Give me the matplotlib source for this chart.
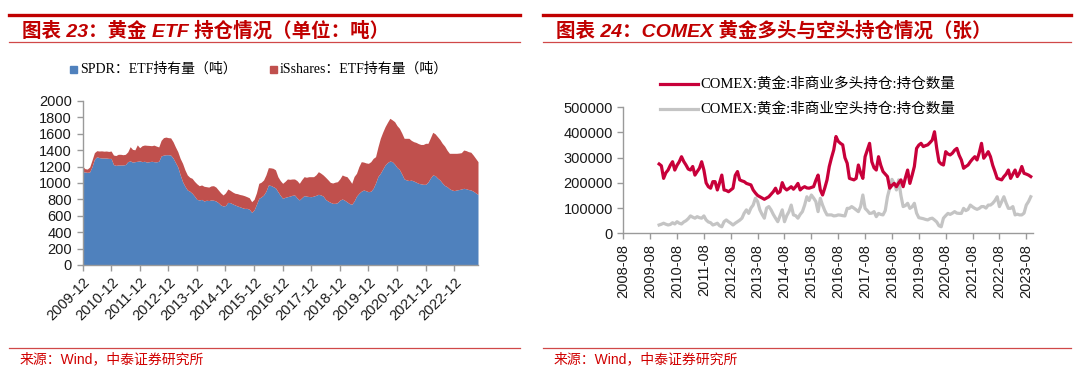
import numpy as np
import matplotlib.pyplot as plt
from matplotlib.lines import Line2D
from matplotlib.patches import Rectangle

# ---------------- datos ----------------
# Grafico izquierdo: mensual, 2009-12 .. 2023-10 (toneladas)
spdr = [1135,
        1135, 1130, 1135, 1200, 1290, 1320, 1310, 1305, 1305, 1305, 1300, 1300,
        1225, 1215, 1220, 1220, 1220, 1225, 1260, 1270, 1255, 1260, 1265, 1270,
        1260, 1265, 1255, 1260, 1265, 1260, 1258, 1265, 1330, 1340, 1345, 1345,
        1340, 1305, 1250, 1195, 1100, 1016, 960, 915, 900, 875, 840, 800,
        793, 800, 780, 790, 786, 793, 790, 780, 760, 732, 720, 725,
        764, 760, 745, 732, 720, 710, 699, 690, 691, 680, 642, 670,
        740, 813, 830, 854, 900, 976, 970, 955, 940, 894, 850, 813,
        825, 833, 840, 850, 854, 820, 793, 820, 846, 840, 835, 833,
        840, 850, 862, 855, 840, 800, 780, 765, 752, 752, 760, 790,
        805, 790, 770, 750, 740, 780, 840, 874, 900, 915, 905, 894,
        900, 935, 1000, 1080, 1118, 1170, 1220, 1250, 1268, 1260, 1230, 1190,
        1165, 1110, 1050, 1037, 1030, 1035, 1024, 1010, 996, 990, 984, 984,
        1010, 1060, 1098, 1090, 1060, 1037, 1000, 970, 955, 930, 915, 907,
        915, 920, 927, 935, 930, 920, 915, 900, 880, 860]
# total SPDR + iShares (borde superior del area roja)
total_etf = [1207,
             1175, 1170, 1195, 1280, 1370, 1394, 1390, 1392, 1388, 1390, 1385, 1390,
             1341, 1335, 1350, 1350, 1345, 1350, 1380, 1443, 1410, 1405, 1465, 1430,
             1455, 1463, 1460, 1458, 1455, 1462, 1450, 1440, 1520, 1553, 1560, 1553,
             1550, 1504, 1440, 1382, 1300, 1240, 1160, 1098, 1070, 1057, 1020, 990,
             967, 976, 960, 955, 950, 965, 967, 950, 915, 880, 854, 880,
             927, 910, 890, 875, 870, 860, 854, 845, 833, 820, 772, 800,
             880, 996, 1010, 1037, 1100, 1187, 1185, 1179, 1160, 1077, 1030, 996,
             1020, 1049, 1045, 1049, 1049, 1030, 996, 1040, 1077, 1070, 1077, 1077,
             1077, 1100, 1138, 1120, 1098, 1070, 1040, 1008, 1000, 1010, 1016, 1050,
             1098, 1085, 1077, 1040, 996, 1080, 1118, 1200, 1260, 1255, 1245, 1240,
             1260, 1300, 1321, 1440, 1545, 1620, 1687, 1740, 1789, 1770, 1748, 1700,
             1667, 1610, 1545, 1545, 1545, 1520, 1504, 1495, 1480, 1470, 1470, 1484,
             1484, 1550, 1618, 1600, 1565, 1530, 1484, 1450, 1400, 1362, 1362, 1362,
             1362, 1365, 1370, 1402, 1395, 1382, 1375, 1340, 1300, 1260]
ishares = [t - s for t, s in zip(total_etf, spdr)]
etf_ticklabels = ['2009-12', '2010-12', '2011-12', '2012-12', '2013-12', '2014-12',
                  '2015-12', '2016-12', '2017-12', '2018-12', '2019-12', '2020-12',
                  '2021-12', '2022-12']

# Grafico derecho: mensual, 2009-12 .. 2023-10 (miles de contratos)
comex_long = [275,
              268, 218, 240, 251, 270, 284, 251, 270, 284, 304, 285, 271,
              255, 251, 265, 231, 245, 258, 284, 251, 200, 185, 179, 205,
              205, 172, 200, 231, 172, 170, 165, 172, 179, 230, 245, 212,
              208, 205, 198, 195, 192, 172, 160, 150, 145, 140, 135, 140,
              145, 155, 165, 179, 159, 165, 201, 180, 172, 178, 185, 175,
              185, 198, 172, 180, 185, 180, 179, 182, 185, 210, 231, 172,
              152, 180, 212, 265, 300, 331, 384, 365, 357, 351, 300, 278,
              218, 215, 212, 218, 271, 240, 218, 304, 330, 357, 284, 260,
              251, 304, 270, 245, 235, 225, 179, 190, 198, 185, 200, 212,
              185, 220, 251, 198, 230, 265, 337, 350, 357, 344, 348, 351,
              360, 370, 403, 337, 284, 275, 271, 324, 315, 311, 318, 330,
              337, 310, 291, 258, 265, 271, 284, 295, 304, 291, 320, 357,
              298, 310, 324, 304, 270, 245, 218, 215, 212, 225, 235, 251,
              218, 235, 251, 225, 240, 265, 238, 235, 231, 225]
comex_short = [33,
               36, 40, 36, 33, 35, 42, 37, 46, 40, 37, 45, 50,
               58, 69, 64, 60, 66, 62, 60, 69, 53, 45, 42, 33,
               36, 40, 30, 26, 46, 53, 46, 40, 33, 40, 46, 52,
               60, 80, 93, 79, 100, 112, 139, 126, 93, 75, 60, 100,
               106, 93, 75, 60, 46, 70, 93, 46, 70, 86, 112, 73,
               70, 60, 75, 86, 112, 145, 130, 152, 140, 126, 86, 139,
               112, 90, 73, 73, 73, 69, 70, 73, 72, 70, 69, 99,
               99, 106, 100, 93, 86, 106, 152, 99, 90, 79, 80, 86,
               66, 79, 75, 73, 90, 145, 180, 214, 198, 172, 212, 150,
               106, 110, 119, 99, 105, 119, 80, 62, 60, 58, 55, 53,
               58, 60, 53, 45, 30, 26, 60, 70, 79, 75, 80, 86,
               80, 79, 79, 99, 90, 95, 112, 105, 99, 95, 99, 106,
               106, 100, 112, 112, 119, 130, 145, 106, 125, 145, 120, 99,
               99, 106, 73, 76, 73, 73, 80, 112, 126, 145]
comex_ticklabels = ['2008-08', '2009-08', '2010-08', '2011-08', '2012-08', '2013-08',
                    '2014-08', '2015-08', '2016-08', '2017-08', '2018-08', '2019-08',
                    '2020-08', '2021-08', '2022-08', '2023-08']

# ---------------- estilo ----------------
W, H = 1080, 378
ROJO = '#C00000'
AZUL = '#4F81BD'
ROJO_AREA = '#C0504D'
ROJO_LINEA = '#C8003A'
GRIS = '#C4C4C4'
CJK = ['Liberation Sans', 'Noto Sans CJK SC']
CJK_SERIF = ['Liberation Serif', 'Noto Sans CJK SC']

plt.rcParams['font.family'] = CJK
plt.rcParams['font.size'] = 10.5

fig = plt.figure(figsize=(W / 100, H / 100), dpi=100)


def fx(px):
    return px / W


def fy(py):
    return 1 - py / H


def hline(x0, x1, y, lw, color):
    fig.add_artist(Line2D([fx(x0), fx(x1)], [fy(y), fy(y)], lw=lw, color=color,
                          transform=fig.transFigure))


def estilo_ejes(ax):
    for s in ['top', 'right']:
        ax.spines[s].set_visible(False)
    for s in ['left', 'bottom']:
        ax.spines[s].set_color('#9A9A9A')
        ax.spines[s].set_linewidth(1.0)
    ax.tick_params(direction='out', length=4, width=1, color='#9A9A9A',
                   labelcolor='#1A1A1A', labelsize=10.5)


# marcos de cabecera y pie
for x0, x1 in [(9, 520), (543, 1071)]:
    hline(x0, x1, 14.5, 2.4, ROJO)
    hline(x0, x1, 42, 0.9, '#D04848')
    hline(x0, x1, 348, 0.9, '#D04848')

fig.text(fx(22), fy(31), '图表 23：黄金 ETF 持仓情况（单位：吨）', color=ROJO,
         fontsize=14, fontweight='bold', style='italic', va='center', family=CJK)
fig.text(fx(556), fy(31), '图表 24：COMEX 黄金多头与空头持仓情况（张）', color=ROJO,
         fontsize=14, fontweight='bold', style='italic', va='center', family=CJK)
fig.text(fx(20), fy(359), '来源：Wind，中泰证券研究所', color='#D00000', fontsize=10,
         va='center', family=CJK)
fig.text(fx(554), fy(359), '来源：Wind，中泰证券研究所', color='#D00000', fontsize=10,
         va='center', family=CJK)

# ---------------- grafico izquierdo ----------------
ax1 = fig.add_axes([fx(82.5), fy(265), fx(478 - 82.5), (265 - 101) / H])
x1 = np.arange(len(spdr))
top = np.array(spdr) + np.array(ishares)
ax1.fill_between(x1, 0, spdr, color=AZUL, lw=0)
ax1.fill_between(x1, spdr, top, color=ROJO_AREA, lw=0)
ax1.set_xlim(0, len(spdr) - 1)
ax1.set_ylim(0, 2000)
ax1.set_yticks(range(0, 2001, 200))
ax1.set_xticks(range(0, 12 * len(etf_ticklabels), 12))
ax1.set_xticklabels(etf_ticklabels, rotation=45, ha='right', rotation_mode='anchor')
estilo_ejes(ax1)

# leyenda izquierda
fig.add_artist(Rectangle((fx(70), fy(73)), fx(7), 7 / H, color=AZUL,
                         transform=fig.transFigure))
fig.text(fx(80), fy(69), 'SPDR：ETF持有量（吨）', fontsize=10, va='center',
         family=CJK_SERIF)
fig.add_artist(Rectangle((fx(270), fy(73)), fx(7), 7 / H, color=ROJO_AREA,
                         transform=fig.transFigure))
fig.text(fx(280), fy(69), 'iSshares：ETF持有量（吨）', fontsize=10, va='center',
         family=CJK_SERIF)

# ---------------- grafico derecho ----------------
ax2 = fig.add_axes([fx(623.3), fy(233.3), fx(1033 - 623.3), (233.3 - 107.3) / H])
x2 = np.arange(16, 16 + len(comex_long))
ax2.plot(x2, np.array(comex_short) * 1000, color=GRIS, lw=2.3)
ax2.plot(x2, np.array(comex_long) * 1000, color=ROJO_LINEA, lw=2.3)
ax2.set_xlim(0, 183)
ax2.set_ylim(0, 500000)
ax2.set_yticks(range(0, 500001, 100000))
ax2.set_xticks(range(0, 12 * len(comex_ticklabels), 12))
ax2.set_xticklabels(comex_ticklabels, rotation=90)
estilo_ejes(ax2)

# leyenda derecha
for y, col, txt in [(84, ROJO_LINEA, 'COMEX:黄金:非商业多头持仓:持仓数量'),
                    (109, GRIS, 'COMEX:黄金:非商业空头持仓:持仓数量')]:
    fig.add_artist(Line2D([fx(660), fx(698)], [fy(y), fy(y)], lw=2.3, color=col,
                          transform=fig.transFigure))
    fig.text(fx(700), fy(y), txt, fontsize=10.5, va='center', family=CJK_SERIF)

fig.savefig('out.png', dpi=100)
